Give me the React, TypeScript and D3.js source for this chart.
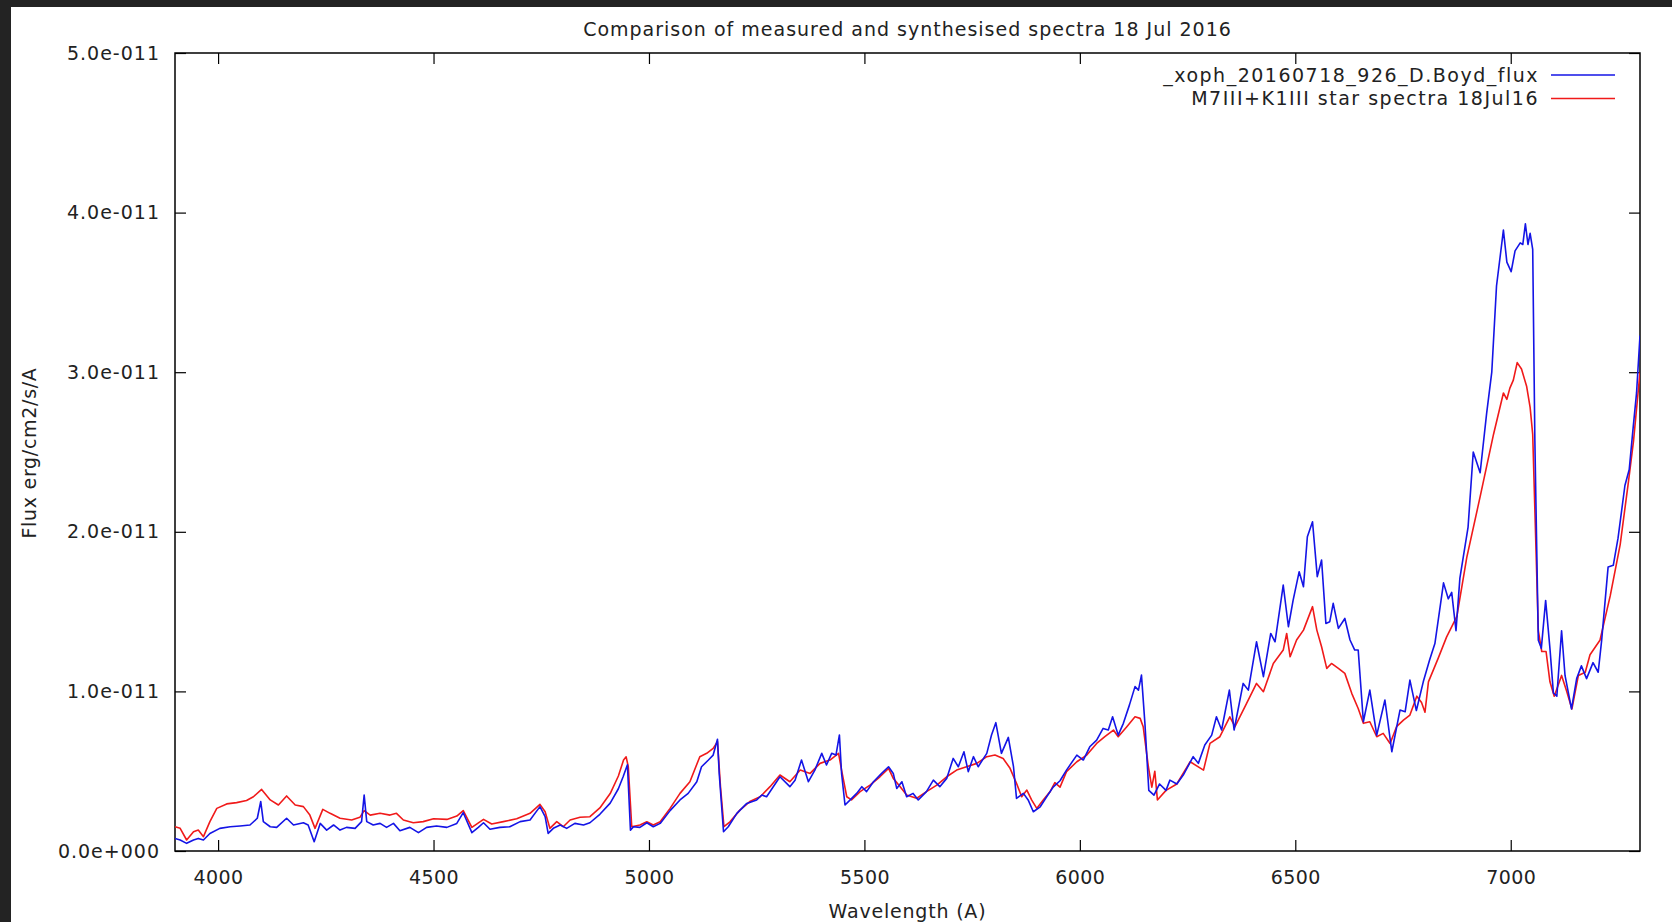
import React, { useRef, useEffect } from 'react';
import * as d3 from 'd3';

// measured spectrum (blue): wavelength in A, flux in units of 1e-11 erg/cm2/s/A
const measuredWl = [
  3900, 3912, 3927, 3943, 3954, 3966, 3981, 4004, 4028, 4051, 4074, 4091, 4099, 4105, 4121, 4136, 4159, 4175, 4198, 4209,
  4223, 4237, 4252, 4268, 4283, 4298, 4318, 4333, 4339, 4345, 4360, 4376, 4391, 4407, 4422, 4445, 4465, 4484, 4507, 4531,
  4554, 4569, 4589, 4604, 4616, 4631, 4654, 4677, 4701, 4724, 4747, 4759, 4766, 4778, 4794, 4809, 4828, 4848, 4863, 4886,
  4910, 4929, 4940, 4950, 4957, 4964, 4979, 4995, 5010, 5026, 5049, 5072, 5091, 5111, 5122, 5138, 5149, 5159, 5163, 5173,
  5184, 5204, 5227, 5250, 5262, 5273, 5304, 5327, 5339, 5354, 5370, 5385, 5401, 5412, 5424, 5434, 5442, 5447, 5455, 5467,
  5482, 5494, 5505, 5521, 5540, 5556, 5567, 5575, 5587, 5598, 5613, 5625, 5644, 5660, 5675, 5691, 5706, 5718, 5731, 5741,
  5753, 5764, 5784, 5795, 5805, 5818, 5834, 5846, 5853, 5869, 5880, 5892, 5908, 5923, 5938, 5954, 5969, 5993, 6008, 6023,
  6039, 6054, 6066, 6076, 6089, 6101, 6115, 6128, 6136, 6143, 6151, 6160, 6172, 6185, 6200, 6209, 6225, 6240, 6263, 6275,
  6290, 6306, 6317, 6329, 6347, 6358, 6379, 6391, 6410, 6426, 6443, 6453, 6472, 6484, 6495, 6509, 6519, 6528, 6540, 6551,
  6561, 6571, 6580, 6588, 6600, 6615, 6627, 6638, 6646, 6658, 6673, 6689, 6708, 6724, 6743, 6755, 6766, 6781, 6797, 6812,
  6824, 6844, 6855, 6863, 6873, 6882, 6901, 6913, 6929, 6944, 6956, 6967, 6983, 6991, 7001, 7010, 7022, 7028, 7034, 7040,
  7045, 7051, 7056, 7064, 7071, 7081, 7091, 7099, 7107, 7118, 7126, 7141, 7153, 7164, 7176, 7191, 7203, 7211, 7226, 7238,
  7249, 7265, 7275, 7284, 7292, 7300
];
const measuredFlux = [
  0.079, 0.069, 0.048, 0.069, 0.079, 0.069, 0.11, 0.142, 0.152, 0.157, 0.163, 0.205, 0.31, 0.184, 0.152, 0.148, 0.205, 0.163, 0.177, 0.163,
  0.058, 0.173, 0.131, 0.163, 0.131, 0.148, 0.142, 0.184, 0.35, 0.184, 0.163, 0.173, 0.148, 0.173, 0.127, 0.148, 0.115, 0.148, 0.157, 0.148,
  0.173, 0.24, 0.115, 0.148, 0.177, 0.136, 0.148, 0.152, 0.184, 0.194, 0.278, 0.215, 0.11, 0.142, 0.163, 0.142, 0.173, 0.163, 0.177, 0.23,
  0.3, 0.39, 0.465, 0.54, 0.131, 0.152, 0.148, 0.177, 0.152, 0.173, 0.253, 0.32, 0.361, 0.434, 0.528, 0.57, 0.601, 0.7, 0.486, 0.121,
  0.152, 0.236, 0.298, 0.32, 0.351, 0.34, 0.465, 0.403, 0.444, 0.57, 0.434, 0.507, 0.612, 0.539, 0.612, 0.601, 0.727, 0.486, 0.288, 0.32,
  0.361, 0.403, 0.372, 0.434, 0.486, 0.528, 0.486, 0.392, 0.434, 0.34, 0.361, 0.32, 0.372, 0.444, 0.403, 0.455, 0.58, 0.528, 0.622, 0.497,
  0.591, 0.528, 0.612, 0.727, 0.804, 0.612, 0.712, 0.528, 0.33, 0.361, 0.32, 0.246, 0.277, 0.34, 0.4, 0.44, 0.507, 0.601, 0.57, 0.653,
  0.695, 0.768, 0.758, 0.841, 0.726, 0.8, 0.914, 1.03, 1.008, 1.102, 0.8, 0.38, 0.35, 0.42, 0.38, 0.444, 0.42, 0.476, 0.591, 0.549,
  0.664, 0.726, 0.841, 0.758, 1.008, 0.758, 1.05, 1.008, 1.311, 1.092, 1.363, 1.311, 1.666, 1.405, 1.572, 1.75, 1.656, 1.969, 2.063, 1.719,
  1.823, 1.426, 1.437, 1.552, 1.395, 1.457, 1.322, 1.259, 1.259, 0.81, 1.008, 0.726, 0.946, 0.622, 0.883, 0.873, 1.071, 0.88, 1.06, 1.2,
  1.3, 1.68, 1.58, 1.62, 1.38, 1.71, 2.03, 2.5, 2.37, 2.74, 3.0, 3.54, 3.89, 3.69, 3.63, 3.76, 3.81, 3.8, 3.93, 3.8,
  3.87, 3.77, 2.57, 1.32, 1.27, 1.57, 1.27, 0.99, 0.97, 1.38, 1.1, 0.89, 1.08, 1.16, 1.08, 1.18, 1.12, 1.32, 1.78, 1.79,
  1.96, 2.29, 2.39, 2.65, 2.87, 3.23
];

// synthesised spectrum (red)
const synthWl = [
  3900, 3912, 3927, 3943, 3954, 3966, 3981, 3997, 4020, 4043, 4066, 4082, 4101, 4121, 4140, 4159, 4179, 4198, 4213, 4225,
  4243, 4260, 4283, 4310, 4329, 4339, 4353, 4376, 4399, 4414, 4430, 4453, 4476, 4500, 4531, 4554, 4569, 4589, 4616, 4635,
  4662, 4693, 4724, 4747, 4759, 4770, 4786, 4801, 4817, 4840, 4863, 4886, 4910, 4929, 4941, 4947, 4952, 4960, 4979, 4995,
  5010, 5026, 5049, 5072, 5095, 5118, 5134, 5149, 5159, 5166, 5174, 5188, 5211, 5234, 5258, 5281, 5304, 5327, 5351, 5374,
  5397, 5420, 5440, 5447, 5459, 5470, 5490, 5513, 5536, 5556, 5567, 5583, 5598, 5621, 5644, 5668, 5691, 5714, 5737, 5761,
  5784, 5803, 5822, 5838, 5853, 5865, 5877, 5888, 5900, 5915, 5931, 5942, 5954, 5969, 5993, 6016, 6039, 6058, 6078, 6089,
  6109, 6128, 6140, 6147, 6159, 6167, 6174, 6180, 6200, 6225, 6256, 6287, 6302, 6325, 6348, 6360, 6387, 6410, 6426, 6449,
  6472, 6480, 6488, 6503, 6519, 6540, 6550, 6561, 6573, 6584, 6600, 6615, 6631, 6646, 6658, 6673, 6689, 6704, 6720, 6735,
  6751, 6766, 6782, 6793, 6801, 6809, 6832, 6851, 6875, 6898, 6929, 6960, 6983, 6991, 6998, 7006, 7015, 7025, 7037, 7045,
  7051, 7056, 7064, 7072, 7082, 7091, 7101, 7118, 7130, 7142, 7157, 7173, 7184, 7207, 7231, 7254, 7273, 7285, 7300
];
const synthFlux = [
  0.152, 0.142, 0.069, 0.121, 0.131, 0.09, 0.184, 0.267, 0.295, 0.303, 0.316, 0.34, 0.386, 0.32, 0.288, 0.345, 0.288, 0.278, 0.225, 0.142,
  0.261, 0.236, 0.205, 0.194, 0.211, 0.253, 0.225, 0.236, 0.225, 0.236, 0.194, 0.177, 0.184, 0.202, 0.198, 0.219, 0.253, 0.148, 0.198, 0.169,
  0.184, 0.202, 0.236, 0.292, 0.246, 0.142, 0.184, 0.152, 0.194, 0.211, 0.215, 0.27, 0.36, 0.47, 0.57, 0.59, 0.528, 0.152, 0.163, 0.183,
  0.163, 0.183, 0.267, 0.361, 0.434, 0.591, 0.612, 0.643, 0.685, 0.403, 0.152, 0.183, 0.256, 0.31, 0.34, 0.403, 0.476, 0.434, 0.507, 0.486,
  0.549, 0.57, 0.612, 0.507, 0.34, 0.32, 0.372, 0.413, 0.465, 0.518, 0.455, 0.403, 0.351, 0.33, 0.372, 0.413, 0.465, 0.507, 0.528, 0.549,
  0.591, 0.601, 0.58, 0.518, 0.424, 0.34, 0.382, 0.32, 0.267, 0.32, 0.372, 0.428, 0.4, 0.497, 0.559, 0.601, 0.674, 0.716, 0.758, 0.716,
  0.779, 0.841, 0.831, 0.779, 0.528, 0.4, 0.5, 0.32, 0.38, 0.42, 0.559, 0.507, 0.674, 0.716, 0.841, 0.779, 0.925, 1.05, 0.998, 1.175,
  1.259, 1.363, 1.217, 1.322, 1.384, 1.531, 1.384, 1.28, 1.144, 1.175, 1.144, 1.113, 0.988, 0.893, 0.8, 0.81, 0.716, 0.737, 0.674, 0.779,
  0.82, 0.852, 0.97, 0.93, 0.87, 1.06, 1.21, 1.34, 1.47, 1.84, 2.22, 2.61, 2.87, 2.83, 2.9, 2.95, 3.06, 3.02, 2.91, 2.78,
  2.61, 2.14, 1.38, 1.25, 1.25, 1.06, 0.97, 1.1, 1.0, 0.89, 1.1, 1.12, 1.23, 1.32, 1.6, 1.92, 2.31, 2.57, 3.0
];

const xTicks = [4000, 4500, 5000, 5500, 6000, 6500, 7000];
const yTicks = [0, 1e-11, 2e-11, 3e-11, 4e-11, 5e-11];
const yTickLabels = ['0.0e+000', '1.0e-011', '2.0e-011', '3.0e-011', '4.0e-011', '5.0e-011'];
const seriesNames = ['_xoph_20160718_926_D.Boyd_flux', 'M7III+K1III star spectra 18Jul16'];
const seriesColors = ['#1414e6', '#f01a1a'];

export default function App() {
  const svgRef = useRef<SVGSVGElement>(null);

  useEffect(() => {
    const W = 1672, H = 922;
    const margin = { top: 53, right: 32, bottom: 71, left: 175 };
    const width = W - margin.left - margin.right;
    const height = H - margin.top - margin.bottom;
    const font = '"DejaVu Sans", Verdana, sans-serif';

    const svg = d3.select(svgRef.current);
    svg.selectAll('*').remove();

    svg.append('rect').attr('width', W).attr('height', H).attr('fill', '#232323');
    svg.append('rect').attr('x', 11).attr('y', 7).attr('width', W - 11).attr('height', H - 7).attr('fill', '#ffffff');

    const x = d3.scaleLinear().domain([3900, 7300]).range([0, width]);
    const y = d3.scaleLinear().domain([0, 5e-11]).range([height, 0]);

    const g = svg.append('g').attr('transform', 'translate(' + margin.left + ',' + margin.top + ')');

    g.append('clipPath').attr('id', 'plotclip')
      .append('rect').attr('width', width).attr('height', height);

    // inward ticks on all four sides
    const styleAxis = (sel: any) => {
      sel.select('.domain').remove();
      sel.selectAll('.tick line').attr('stroke', '#000').attr('stroke-width', 1.2);
    };
    g.append('g').attr('transform', 'translate(0,' + height + ')')
      .call(d3.axisBottom(x).tickValues(xTicks).tickSize(-11).tickPadding(16).tickFormat(d3.format('d')))
      .call(styleAxis)
      .selectAll('text').attr('font-family', font).attr('font-size', 19).attr('fill', '#222')
      .attr('letter-spacing', 0.4).attr('dy', '0.9em');
    g.append('g')
      .call(d3.axisTop(x).tickValues(xTicks).tickSize(-11).tickFormat(() => ''))
      .call(styleAxis);
    g.append('g')
      .call(d3.axisLeft(y).tickValues(yTicks).tickSize(-11).tickPadding(15)
        .tickFormat((d, i) => yTickLabels[i]))
      .call(styleAxis)
      .selectAll('text').attr('font-family', font).attr('font-size', 19).attr('fill', '#222').attr('letter-spacing', 1);
    g.append('g').attr('transform', 'translate(' + width + ',0)')
      .call(d3.axisRight(y).tickValues(yTicks).tickSize(-11).tickFormat(() => ''))
      .call(styleAxis);

    g.append('rect').attr('width', width).attr('height', height)
      .attr('fill', 'none').attr('stroke', '#000').attr('stroke-width', 1.5);

    const line = d3.line<[number, number]>()
      .x(d => x(d[0]))
      .y(d => y(d[1] * 1e-11));

    const series = [
      d3.zip(measuredWl, measuredFlux) as [number, number][],
      d3.zip(synthWl, synthFlux) as [number, number][]
    ];

    const plot = g.append('g').attr('clip-path', 'url(#plotclip)');
    // red drawn first, blue on top
    [1, 0].forEach(i => {
      plot.append('path')
        .datum(series[i])
        .attr('fill', 'none')
        .attr('stroke', seriesColors[i])
        .attr('stroke-width', 1.6)
        .attr('stroke-linejoin', 'round')
        .attr('d', line);
    });

    // legend
    const legend = g.append('g');
    seriesNames.forEach((name, i) => {
      const ly = 22 + i * 23.5;
      legend.append('text')
        .attr('x', 1364).attr('y', ly).attr('dy', '0.35em')
        .attr('text-anchor', 'end')
        .attr('font-family', font).attr('font-size', 19).attr('letter-spacing', 1.5).attr('fill', '#222')
        .text(name);
      legend.append('line')
        .attr('x1', 1376).attr('x2', 1440).attr('y1', ly).attr('y2', ly)
        .attr('stroke', seriesColors[i]).attr('stroke-width', 1.6);
    });

    // titles
    svg.append('text')
      .attr('x', margin.left + width / 2).attr('y', 36)
      .attr('text-anchor', 'middle')
      .attr('font-family', font).attr('font-size', 19).attr('letter-spacing', 1).attr('fill', '#222')
      .text('Comparison of measured and synthesised spectra 18 Jul 2016');

    svg.append('text')
      .attr('x', margin.left + width / 2).attr('y', 918)
      .attr('text-anchor', 'middle')
      .attr('font-family', font).attr('font-size', 19).attr('letter-spacing', 0.8).attr('fill', '#222')
      .text('Wavelength (A)');

    svg.append('text')
      .attr('transform', 'translate(36,' + (margin.top + height / 2 + 1) + ') rotate(-90)')
      .attr('text-anchor', 'middle')
      .attr('font-family', font).attr('font-size', 19).attr('letter-spacing', 0.7).attr('fill', '#222')
      .text('Flux erg/cm2/s/A');
  }, []);

  return (
    <svg ref={svgRef} width={1672} height={922}
      style={{ position: 'absolute', left: 0, top: 0, display: 'block' }} />
  );
}
